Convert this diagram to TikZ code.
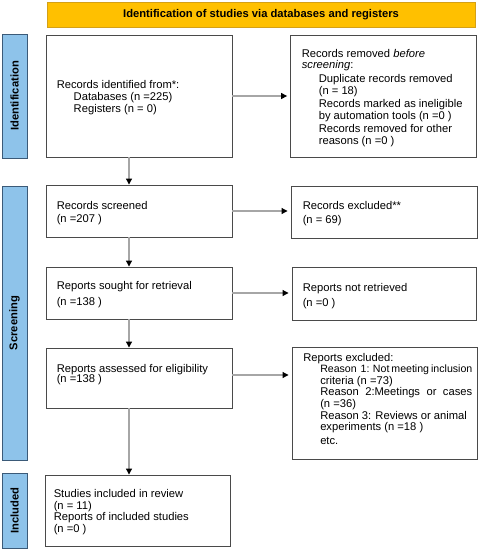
\documentclass[tikz,border=0pt]{standalone}
\usepackage{fontspec}
\setmainfont{Liberation Sans}
\usetikzlibrary{arrows.meta}
\definecolor{bannerfill}{HTML}{FFC000}
\definecolor{bannerdraw}{HTML}{D4A017}
\definecolor{sidefill}{HTML}{8EC3EA}
\definecolor{sidedraw}{HTML}{3B5A78}
\definecolor{boxdraw}{HTML}{4A4A4A}
\definecolor{linkgray}{HTML}{A6A6A6}
\newcommand\myind{\hspace*{17pt}}
\tikzset{
  box/.style={draw=boxdraw, line width=0.9pt, rectangle, inner sep=0pt},
  txt/.style={font=\fontsize{11.2}{11.6}\selectfont, align=left, inner sep=0pt},
  banner/.style={draw=bannerdraw, fill=bannerfill, line width=0.8pt, inner sep=0pt,
    font=\fontsize{11.2}{12}\selectfont\bfseries},
  side/.style={draw=sidedraw, fill=sidefill, line width=0.9pt, inner sep=0pt, rotate=90,
    minimum height=25pt, font=\fontsize{11.2}{12}\selectfont\bfseries},
  link/.style={draw=linkgray, line width=1.1pt, -{Triangle[length=6pt,width=6pt,black]}},
}
\begin{document}
\begin{tikzpicture}[x=1pt,y=-1pt]
\useasboundingbox (0,0) rectangle (480,550);
% banner
\node[banner, minimum width=428pt, minimum height=25pt] (ban) at (261,14.5)
  {Identification of studies via databases and registers};
% side bars
\node[side, minimum width=124pt] (s1) at (14.5,96) {Identification};
\node[side, minimum width=274pt] (s2) at (14.5,323) {Screening};
\node[side, minimum width=75pt] (s3) at (14.5,510.5) {Included};
% left boxes
\node[box, minimum width=186pt, minimum height=122pt] (b1) at (139,96) {};
\node[box, minimum width=186pt, minimum height=52pt] (b2) at (139,211) {};
\node[box, minimum width=186pt, minimum height=52pt] (b3) at (139,293) {};
\node[box, minimum width=186pt, minimum height=60pt] (b4) at (139,378) {};
\node[box, minimum width=185pt, minimum height=71pt] (b5) at (137.5,510.5) {};
% right boxes
\node[box, minimum width=185.5pt, minimum height=122pt] (r1) at (383.3,96) {};
\node[box, minimum width=186pt, minimum height=52pt] (r2) at (384,212) {};
\node[box, minimum width=184pt, minimum height=53pt] (r3) at (384,294) {};
\node[box, minimum width=185pt, minimum height=112pt] (r4) at (384.5,403) {};
% texts
\node[txt, anchor=west] (b1t) at ([xshift=11pt,yshift=-1.5pt]b1.west)
  {Records identified from*:\\ \myind Databases (n =225)\\ \myind Registers (n = 0)};
\node[txt, anchor=west] (b2t) at ([xshift=11pt,yshift=-2pt]b2.west)
  {Records screened\\[1.7pt] (n =207 )};
\node[txt, anchor=west] (b3t) at ([xshift=11pt,yshift=-2pt]b3.west)
  {Reports sought for retrieval\\[4.5pt] (n =138 )};
\node[txt, anchor=west] (b4t) at ([xshift=11pt,yshift=3.5pt]b4.west)
  {Reports assessed for eligibility\\[-1pt] (n =138 )};
\node[txt, anchor=west] (b5t) at ([xshift=9pt,yshift=-1.5pt]b5.west)
  {Studies included in review\\ (n = 11)\\ Reports of included studies\\ (n =0 )};
\node[txt, anchor=west] (r1t) at ([xshift=11.5pt,yshift=-2pt]r1.west)
  {Records removed \textit{before}\\ \textit{screening}:\\[2pt]
   \myind Duplicate records removed\\ \myind (n = 18)\\[2pt]
   \myind Records marked as ineligible\\ \myind by automation tools (n =0 )\\[2pt]
   \myind Records removed for other\\ \myind reasons (n =0 )};
\node[txt, anchor=west] (r2t) at ([xshift=12pt,yshift=-1.5pt]r2.west)
  {Records excluded**\\[1.7pt] (n = 69)};
\node[txt, anchor=west] (r3t) at ([xshift=11pt,yshift=-2.5pt]r3.west)
  {Reports\ not retrieved\\[3.5pt] (n =0 )};
\node[txt, anchor=west] (r4t) at ([xshift=11.5pt,yshift=4pt]r4.west)
  {Reports excluded:\\
   \myind\makebox[152pt][s]{\fontsize{10.6}{11.6}\selectfont Reason\ \ 1: Not meeting inclusion}\\ \myind criteria (n =73)\\
   \myind\makebox[152pt][s]{Reason 2:Meetings or cases}\\ \myind (n =36)\\
   \myind Reason 3: Reviews or animal\\ \myind experiments (n =18 )\\[2.5pt]
   \myind etc.};
% connectors
\coordinate (ax) at (129,0);
\draw[link] (b1.south -| ax) -- (b2.north -| ax);
\draw[link] (b2.south -| ax) -- (b3.north -| ax);
\draw[link] (b3.south -| ax) -- (b4.north -| ax);
\draw[link] (b4.south -| ax) -- (b5.north -| ax);
\draw[link, shorten >=3pt] (b1.east) -- (b1.east -| r1.west);
\draw[link, shorten >=3pt] (b2.east) -- (b2.east -| r2.west);
\draw[link, shorten >=3pt] (b3.east) -- (b3.east -| r3.west);
\draw[link, shorten >=3pt] ([yshift=3pt]b4.east) -- ([yshift=3pt]b4.east -| r4.west);
\end{tikzpicture}
\end{document}
